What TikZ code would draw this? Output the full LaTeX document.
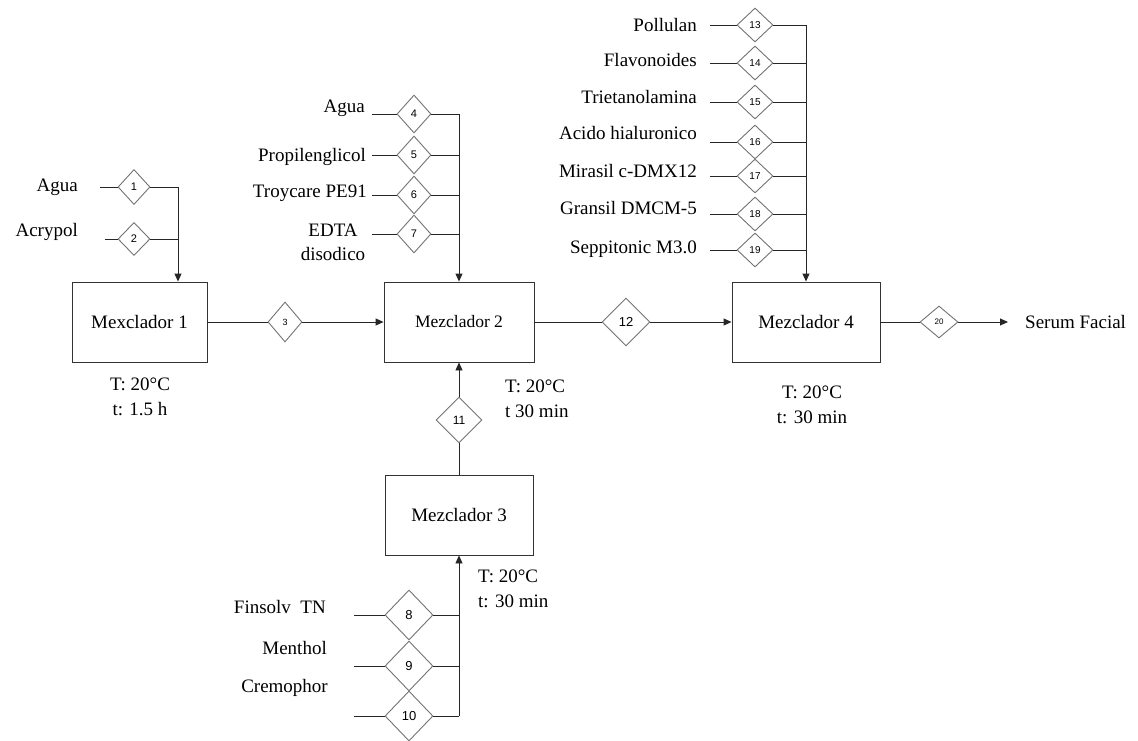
\documentclass[tikz,border=0pt]{standalone}
\usepackage{fontspec}
\setmainfont{Liberation Serif}[Ligatures=TeX]
\newfontfamily\tnr{Liberation Serif}
\newfontfamily\numfont{Liberation Sans}
\usetikzlibrary{shapes.geometric,arrows.meta}
\tikzset{
  line/.style={draw=black!85, line width=0.9pt},
  arr/.style={line, -{Triangle[length=8pt,width=7pt]}},
  unit/.style={draw=black!80, line width=0.9pt, minimum height=80pt, inner sep=0pt, font=\tnr\fontsize{19}{21}\selectfont},
  strm/.style={diamond, draw=black!55, line width=0.9pt, inner sep=0pt, font=\numfont\fontsize{11}{12}\selectfont},
  lbl/.style={font=\tnr\fontsize{19}{21}\selectfont, inner sep=0pt},
  cond/.style={font=\tnr\fontsize{19}{25}\selectfont, inner sep=0pt},
}
\begin{document}
\begin{tikzpicture}[x=1pt,y=-1pt]
\useasboundingbox[fill=white] (0,0) rectangle (1138,741);

% units
\node[unit, minimum width=135pt] (m1) at (139.5,322) {Mexclador 1};
\node[unit, minimum width=150pt, font=\tnr\fontsize{17.5}{20}\selectfont] (m2) at (459,322) {Mezclador 2};
\node[unit, minimum width=148pt] (m3) at (459,515) {Mezclador 3};
\node[unit, minimum width=148pt] (m4) at (806,322) {Mezclador 4};

% conditions
\node[cond, align=center] (c1) at (140,397) {T: 20°C\\t: 1.5 h};
\node[cond, align=left, anchor=west] (c2) at (505,399) {T: 20°C\\t 30 min};
\node[cond, align=center] (c4) at (812,405) {T: 20°C\\t: 30 min};
\node[cond, align=left, anchor=west] (c3) at (478,589) {T: 20°C\\t: 30 min};

% streams 1,2 -> Mexclador 1
\node[lbl, anchor=east] (l1) at (78,187) {Agua};
\node[lbl, anchor=east] (l2) at (78,232) {Acrypol};
\coordinate (i1) at (100,187);
\coordinate (i2) at (105,239);
\node[strm, minimum width=32pt, minimum height=35pt] (d1) at (134,187) {1};
\node[strm, minimum width=32pt, minimum height=33pt] (d2) at (134,239) {2};
\coordinate (j1) at (178,187);
\coordinate (j2) at (178,239);
\draw[line] (i1) -- (d1) -- (j1);
\draw[line] (i2) -- (d2) -- (j2);
\draw[arr] (j1) -- (j1 |- m1.north);

% stream 3
\node[strm, minimum width=34pt, minimum height=40pt, font=\numfont\fontsize{9}{10}\selectfont] (d3) at (285,322) {3};
\draw[line] (m1) -- (d3);
\draw[arr] (d3) -- (m2);

% streams 4-7 -> Mezclador 2
\node[lbl, anchor=east] (l4) at (365,108) {Agua};
\node[lbl, anchor=east] (l5) at (366,157) {Propilenglicol};
\node[lbl, anchor=east] (l6) at (367,193) {Troycare PE91};
\node[lbl, align=center, font=\tnr\fontsize{19}{24}\selectfont] (l7) at (333,242) {EDTA\\disodico};
\foreach \n/\y in {4/114,5/155,6/195,7/234}{
  \coordinate (i\n) at (372,\y);
  \node[strm, minimum width=34pt, minimum height=38pt] (d\n) at (414,\y) {\n};
  \coordinate (j\n) at (459,\y);
  \draw[line] (i\n) -- (d\n) -- (j\n);
}
\draw[arr] (j4) -- (j4 |- m2.north);

% stream 12
\node[strm, minimum width=48pt, minimum height=48pt, font=\numfont\fontsize{13}{14}\selectfont] (d12) at (626,322) {12};
\draw[line] (m2) -- (d12);
\draw[arr] (d12) -- (m4);

% streams 13-19 -> Mezclador 4
\node[lbl, anchor=east] (l13) at (697,25) {Pollulan};
\node[lbl, anchor=east] (l14) at (697,60) {Flavonoides};
\node[lbl, anchor=east] (l15) at (697,97) {Trietanolamina};
\node[lbl, anchor=east] (l16) at (697,133) {Acido hialuronico};
\node[lbl, anchor=east] (l17) at (697,171) {Mirasil c-DMX12};
\node[lbl, anchor=east] (l18) at (697,208) {Gransil DMCM-5};
\node[lbl, anchor=east] (l19) at (697,249) {Seppitonic M3.0};
\foreach \n/\y in {13/25,14/63,15/102,16/142,17/176,18/214,19/250}{
  \coordinate (i\n) at (710,\y);
  \node[strm, minimum width=36pt, minimum height=34pt, font=\numfont\fontsize{10}{11}\selectfont] (d\n) at (755,\y) {\n};
  \coordinate (j\n) at (806,\y);
  \draw[line] (i\n) -- (d\n) -- (j\n);
}
\draw[arr] (j13) -- (j13 |- m4.north);

% stream 20 -> product
\node[strm, minimum width=38pt, minimum height=32pt, font=\numfont\fontsize{8}{9}\selectfont] (d20) at (939,322) {20};
\coordinate (o20) at (1008,322);
\node[lbl, anchor=west] (prod) at (1025,322) {Serum Facial};
\draw[line] (m4) -- (d20);
\draw[arr] (d20) -- (o20);

% stream 11
\node[strm, minimum width=46pt, minimum height=46pt, font=\numfont\fontsize{12}{13}\selectfont] (d11) at (459,420) {11};
\draw[line] (m3) -- (d11);
\draw[arr] (d11) -- (m2);

% streams 8-10 -> Mezclador 3
\node[lbl, anchor=east] (l8) at (326,607) {Finsolv\ \ TN};
\node[lbl, anchor=east] (l9) at (327,648) {Menthol};
\node[lbl, anchor=east] (l10) at (328,688) {Cremophor};
\foreach \n/\y in {8/615,9/666,10/716}{
  \coordinate (i\n) at (354,\y);
  \node[strm, minimum width=48pt, minimum height=50pt, font=\numfont\fontsize{13}{14}\selectfont] (d\n) at (409,\y) {\n};
  \coordinate (j\n) at (459,\y);
  \draw[line] (i\n) -- (d\n) -- (j\n);
}
\draw[arr] (j10) -- (j10 |- m3.south);
\end{tikzpicture}
\end{document}
